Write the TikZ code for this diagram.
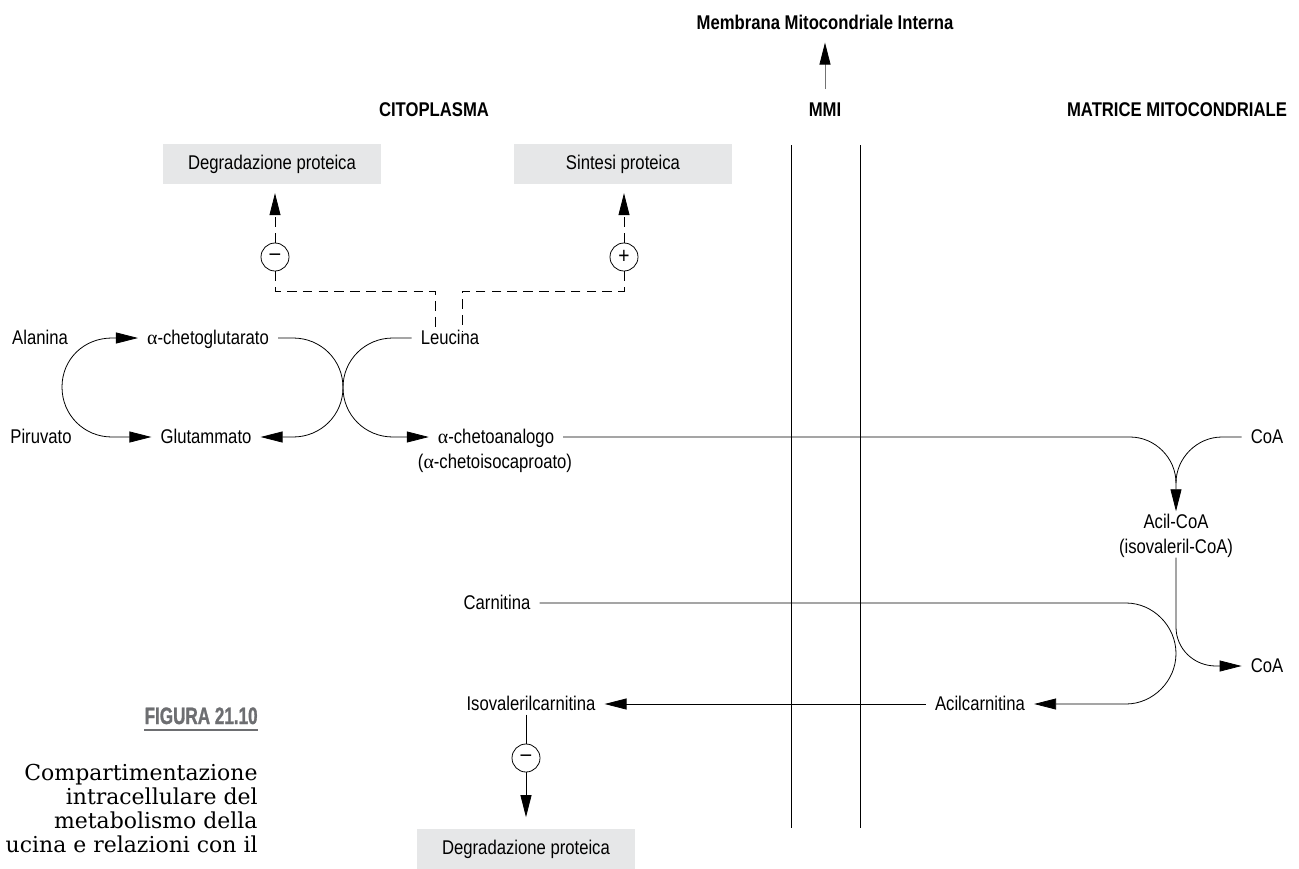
\documentclass[tikz,border=0pt]{standalone}
\usepackage{fontspec}
\setmainfont{Liberation Sans}[FakeStretch=0.84]
\newfontfamily\capfont{DejaVu Serif}
\newfontfamily\figfont{Liberation Sans}[FakeStretch=0.72,BoldFeatures={FakeBold=1.2}]
\newfontfamily\grk{Liberation Serif}
\usetikzlibrary{arrows.meta}
\definecolor{boxgray}{HTML}{E6E7E8}
\definecolor{figgray}{HTML}{6D6E71}
\newcommand{\alf}{{\grk α}}

\begin{document}
\begin{tikzpicture}[x=0.02cm,y=-0.02cm,line width=0.45pt,
  every node/.style={font=\fontsize{11.3}{14}\selectfont},
  lbl/.style={inner xsep=5pt,inner ysep=1pt,text height=1.6ex,text depth=0.25ex},
  title/.style={font=\fontsize{11.3}{14}\selectfont\bfseries},
  box/.style={fill=boxgray,minimum width=4.36cm,minimum height=0.8cm,inner sep=0pt},
  sign/.style={draw,circle,minimum size=0.56cm,inner sep=0pt,font=\fontsize{13}{14}\selectfont},
  arr/.style={-{Triangle[length=4.4mm,width=2.2mm]}},
  dashln/.style={dash pattern=on 5.5pt off 3.5pt},
  capt/.style={anchor=base east,inner sep=0pt,font=\capfont\fontsize{12.5}{14}\selectfont}]
\useasboundingbox (0,0) rectangle (1299,869);

% intestazioni
\node[title] (membrana) at (825,22) {Membrana Mitocondriale Interna};
\node[title] (mmi) at (825,110) {MMI};
\node[title] (cito) at (434,110) {CITOPLASMA};
\node[title] (matrice) at (1177,110) {MATRICE MITOCONDRIALE};
\coordinate (mmibase) at (825,89);
\draw[black!55,-{Triangle[length=4.4mm,width=2.2mm,black]},shorten >=4pt] (mmibase) -- (membrana.south);

% membrana
\draw (791,145) -- (791,828);
\draw (860,145) -- (860,828);

% riquadri
\node[box] (degr1) at (272,164) {Degradazione proteica};
\node[box] (sint) at (623,164) {Sintesi proteica};
\node[box] (degr2) at (526,849) {Degradazione proteica};
\node[sign] (meno1) at (275,257) {\textendash};
\node[sign] (piu) at (624,257) {+};
\node[sign] (meno2) at (526,758) {\textendash};

% metaboliti
\node[lbl] (ala) at (40,338) {Alanina};
\node[lbl] (piru) at (41,437) {Piruvato};
\node[lbl] (akg) at (208,338) {\alf-chetoglutarato};
\node[lbl] (glu) at (206,437) {Glutammato};
\node[lbl] (leu) at (450,338) {Leucina};
\node[lbl] (kic) at (496,437) {\alf-chetoanalogo};
\node[lbl] (kicb) at (495,462) {(\alf-chetoisocaproato)};
\node[lbl] (coaa) at (1267,437) {CoA};
\node[lbl] (acil) at (1176,522) {Acil-CoA};
\node[lbl] (acilb) at (1176,547) {(isovaleril-CoA)};
\node[lbl] (coab) at (1267,666) {CoA};
\node[lbl] (carn) at (497,603) {Carnitina};
\node[lbl] (acilc) at (980,704) {Acilcarnitina};
\node[lbl] (isov) at (531,704) {Isovalerilcarnitina};

% leucina su sintesi/degradazione
\draw[dashln,arr,shorten >=5pt] (meno1.north) -- (meno1.north |- degr1.south);
\draw[dashln,arr,shorten >=5pt] (piu.north) -- (piu.north |- sint.south);
\draw[dashln] (meno1.south) |- (435,291) -- (435,331);
\draw[dashln] (piu.south) |- (462,291) -- (462,331);

% transaminazione
\draw[arr] (62,387) .. controls (62,359) and (84,338) .. (112,338) -- (akg.west);
\draw[arr] (62,387) .. controls (62,415) and (84,437) .. (112,437) -- (glu.west);
\draw[arr] (akg.east) -- (293,338) .. controls (321,338) and (343,360) .. (343,387.5)
  .. controls (343,415) and (365,437) .. (393,437) -- (kic.west);
\draw[arr] (leu.west) -- (393,338) .. controls (365,338) and (343,360) .. (343,387.5)
  .. controls (343,415) and (321,437) .. (293,437) -- (glu.east);

% acil-CoA
\draw[arr] (kic.east) -- (1130,437) .. controls (1155,437) and (1176,458) .. (1176,483) -- (acil.north);
\draw (coaa.west) -- (1222,437) .. controls (1197,437) and (1176,458) .. (1176,483);
\draw[arr] (acilb.south) -- (1176,627) .. controls (1176,649) and (1194,666) .. (1216,666) -- (coab.west);

% carnitina
\draw[arr] (carn.east) -- (1126,603) .. controls (1153,603) and (1176,626) .. (1176,653.5)
  .. controls (1176,681) and (1153,704) .. (1126,704) -- (acilc.east);
\draw[arr] (acilc.west) -- (isov.east);
\draw (isov.south -| meno2.north) -- (meno2.north);
\draw[arr,shorten >=6.5pt] (meno2.south) -- (degr2.north);

% didascalia
\node[anchor=base east,inner sep=0pt,text=figgray,font=\figfont\fontsize{13.5}{15}\selectfont\bfseries] (fig) at (258,724) {FIGURA 21.10};
\draw[figgray,line width=1.4pt] ([yshift=-3.5pt]fig.base west) -- ([yshift=-3.5pt]fig.base east);
\node[capt] (capa) at (258,780) {Compartimentazione};
\node[capt] (capb) at (258,804) {intracellulare del};
\node[capt] (capc) at (258,828) {metabolismo della};
\node[capt] (capd) at (258,852) {ucina e relazioni con il};
\end{tikzpicture}
\end{document}
